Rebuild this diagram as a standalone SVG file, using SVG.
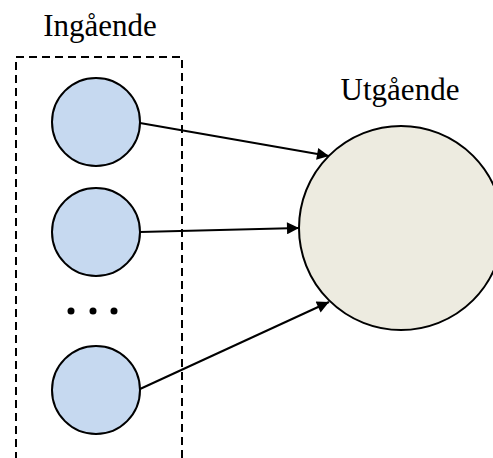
<svg xmlns="http://www.w3.org/2000/svg" width="493" height="458" viewBox="0 0 493 458">
  <style>
    .label { font-family: "Liberation Serif", "Times New Roman", serif; font-size: 31px; fill: #000; text-anchor: middle; }
    .in { fill: #C6D9F0; stroke: #000; stroke-width: 2; }
    .out { fill: #EDEBE0; stroke: #000; stroke-width: 2; }
    .edge { stroke: #000; stroke-width: 2; fill: none; marker-end: url(#arrow); }
    .frame { fill: none; stroke: #000; stroke-width: 2; stroke-dasharray: 8 5; }
  </style>
  <defs>
    <marker id="arrow" viewBox="0 0 10 10" refX="10" refY="5" markerWidth="7.5" markerHeight="6" markerUnits="strokeWidth" orient="auto">
      <path d="M0,0 L10,5 L0,10 Z" fill="#000"/>
    </marker>
  </defs>

  <rect width="493" height="458" fill="#fff"/>

  <g id="input-layer">
    <text class="label" x="100" y="36">Ingående</text>
    <path class="frame" d="M16,460 L16,57 L182,57 L182,460"/>
  </g>

  <g id="input-1"><circle class="in" cx="96" cy="122" r="44"/></g>
  <g id="input-2"><circle class="in" cx="96" cy="232" r="44"/></g>
  <g id="ellipsis">
    <circle cx="71" cy="311" r="3.5" fill="#000"/>
    <circle cx="93" cy="311" r="3.5" fill="#000"/>
    <circle cx="114" cy="311" r="3.5" fill="#000"/>
  </g>
  <g id="input-n"><circle class="in" cx="96" cy="390" r="44"/></g>

  <g id="output">
    <text class="label" x="400" y="100">Utgående</text>
    <circle class="out" cx="401" cy="228" r="102"/>
  </g>

  <g id="connectors">
    <line class="edge" x1="140" y1="123" x2="329" y2="156"/>
    <line class="edge" x1="140" y1="232" x2="299" y2="228"/>
    <line class="edge" x1="140" y1="389" x2="329" y2="302"/>
  </g>
</svg>
